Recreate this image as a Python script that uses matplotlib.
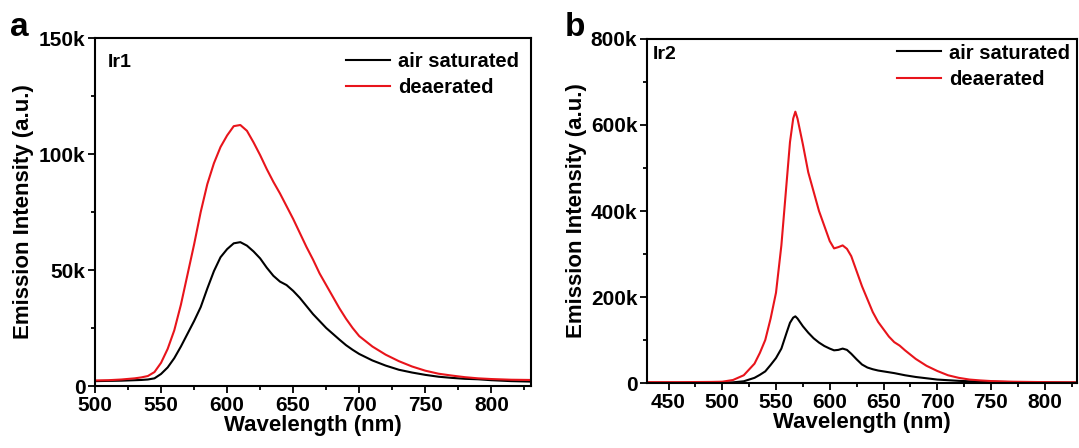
import matplotlib.pyplot as plt
import numpy as np

plt.rcParams['font.family'] = 'Liberation Sans'
plt.rcParams['font.weight'] = 'bold'

# Ir1 spectra (wavelength nm, intensity in k counts)
wl1 = [500, 510, 520, 530, 535, 540, 545, 550, 555, 560, 565, 570, 575, 580, 585,
       590, 595, 600, 605, 610, 615, 620, 625, 630, 635, 640, 645, 650, 655, 660,
       665, 670, 675, 680, 685, 690, 695, 700, 710, 720, 730, 740, 750, 760, 770,
       780, 790, 800, 815, 830]
ir1_deaer = [2.4, 2.5, 2.8, 3.3, 3.7, 4.3, 6, 10, 16, 24, 35, 48, 61, 75, 87,
             96, 103, 108, 112, 112.5, 110, 105, 99.5, 93.5, 88, 83, 77.5, 72, 66, 60,
             54.5, 48.5, 43.5, 38.5, 33.5, 29, 25, 21.5, 17, 13.5, 10.7, 8.4, 6.6, 5.3, 4.5,
             3.8, 3.3, 3, 2.7, 2.6]
ir1_air = [2.1, 2.2, 2.3, 2.5, 2.6, 2.8, 3.3, 5.2, 8, 12, 17, 22.5, 28, 34, 42,
           49.5, 55.5, 59, 61.5, 62, 60.5, 58, 55, 51, 47.5, 45, 43.5, 41, 38, 34.5,
           31, 28, 25, 22.5, 20, 17.6, 15.6, 13.8, 11, 8.8, 7, 5.8, 4.8, 4, 3.5,
           3.1, 2.9, 2.5, 2.1, 1.9]

# Ir2 spectra
wl2 = [430, 460, 490, 500, 510, 520, 530, 535, 540, 545, 550, 555, 560, 563, 566,
       568, 570, 575, 580, 585, 590, 595, 600, 604, 608, 612, 616, 620, 625, 630,
       635, 640, 645, 650, 655, 660, 665, 670, 680, 690, 700, 710, 720, 730, 740,
       750, 770, 800, 830]
ir2_deaer = [2, 2, 2.5, 3, 7, 18, 45, 70, 100, 150, 210, 320, 470, 560, 615,
             631, 615, 555, 490, 445, 400, 365, 330, 313, 316, 320, 312, 295, 260, 225,
             195, 165, 142, 125, 108, 95, 87, 76, 56, 40, 28, 18, 12, 8, 6,
             4.5, 3, 2, 1.5]
ir2_air = [0.5, 0.5, 0.8, 1, 1.5, 4, 12, 19, 27, 42, 58, 80, 118, 140, 152,
           155, 150, 132, 117, 104, 94, 86, 80, 76, 77, 80, 77, 68, 55, 43,
           36, 32, 29, 27, 25, 23, 20.5, 18, 14, 11, 8, 6.5, 5, 4, 3.5,
           3, 2, 1.5, 1]

fig = plt.figure(figsize=(10.79, 4.48), dpi=100)

ax1 = fig.add_axes([95/1079, 1-386/448, 436/1079, 348/448])
ax2 = fig.add_axes([647/1079, 1-383/448, 430/1079, 344/448])

ax1.plot(wl1, np.array(ir1_air)*1000, color='black', lw=1.5, label='air saturated')
ax1.plot(wl1, np.array(ir1_deaer)*1000, color='#e8141b', lw=1.5, label='deaerated')
ax2.plot(wl2, np.array(ir2_air)*1000, color='black', lw=1.5, label='air saturated')
ax2.plot(wl2, np.array(ir2_deaer)*1000, color='#e8141b', lw=1.5, label='deaerated')

ax1.set_xlim(500, 830)
ax1.set_ylim(0, 150000)
ax1.set_xticks([500, 550, 600, 650, 700, 750, 800])
ax1.set_xticks(np.arange(525, 830, 50), minor=True)
ax1.set_yticks([0, 50000, 100000, 150000])
ax1.set_yticklabels(['0', '50k', '100k', '150k'])
ax1.set_yticks([25000, 75000, 125000], minor=True)

ax2.set_xlim(430, 830)
ax2.set_ylim(0, 800000)
ax2.set_xticks([450, 500, 550, 600, 650, 700, 750, 800])
ax2.set_xticks(np.arange(475, 830, 50), minor=True)
ax2.set_yticks([0, 200000, 400000, 600000, 800000])
ax2.set_yticklabels(['0', '200k', '400k', '600k', '800k'])
ax2.set_yticks([100000, 300000, 500000, 700000], minor=True)

for ax in (ax1, ax2):
    for s in ax.spines.values():
        s.set_linewidth(1.5)
    ax.tick_params(which='major', direction='out', length=5, width=1.3, labelsize=15, pad=2)
    ax.tick_params(which='minor', direction='out', length=3, width=1.3)
    ax.set_xlabel('Wavelength (nm)', fontsize=16, fontweight='bold', labelpad=0)
    ax.set_ylabel('Emission Intensity (a.u.)', fontsize=16, fontweight='bold', labelpad=3)

ax1.text(0.03, 0.93, 'Ir1', transform=ax1.transAxes, fontsize=14, fontweight='bold',
         va='center', ha='left')
ax2.text(0.013, 0.955, 'Ir2', transform=ax2.transAxes, fontsize=14, fontweight='bold',
         va='center', ha='left')

ax1.legend(loc='upper right', bbox_to_anchor=(1.0, 0.995), frameon=False,
           handlelength=2.2, handletextpad=0.4, labelspacing=0.35, borderaxespad=0.2,
           prop={'weight': 'bold', 'size': 14.5})
ax2.legend(loc='upper right', bbox_to_anchor=(1.012, 1.022), frameon=False,
           handlelength=2.2, handletextpad=0.4, labelspacing=0.35, borderaxespad=0.2,
           prop={'weight': 'bold', 'size': 14.5})

fig.text(10/1079, 1-28/448, 'a', fontsize=24, fontweight='bold', va='center')
fig.text(565/1079, 1-28/448, 'b', fontsize=24, fontweight='bold', va='center')

fig.savefig('out.png', dpi=100)
